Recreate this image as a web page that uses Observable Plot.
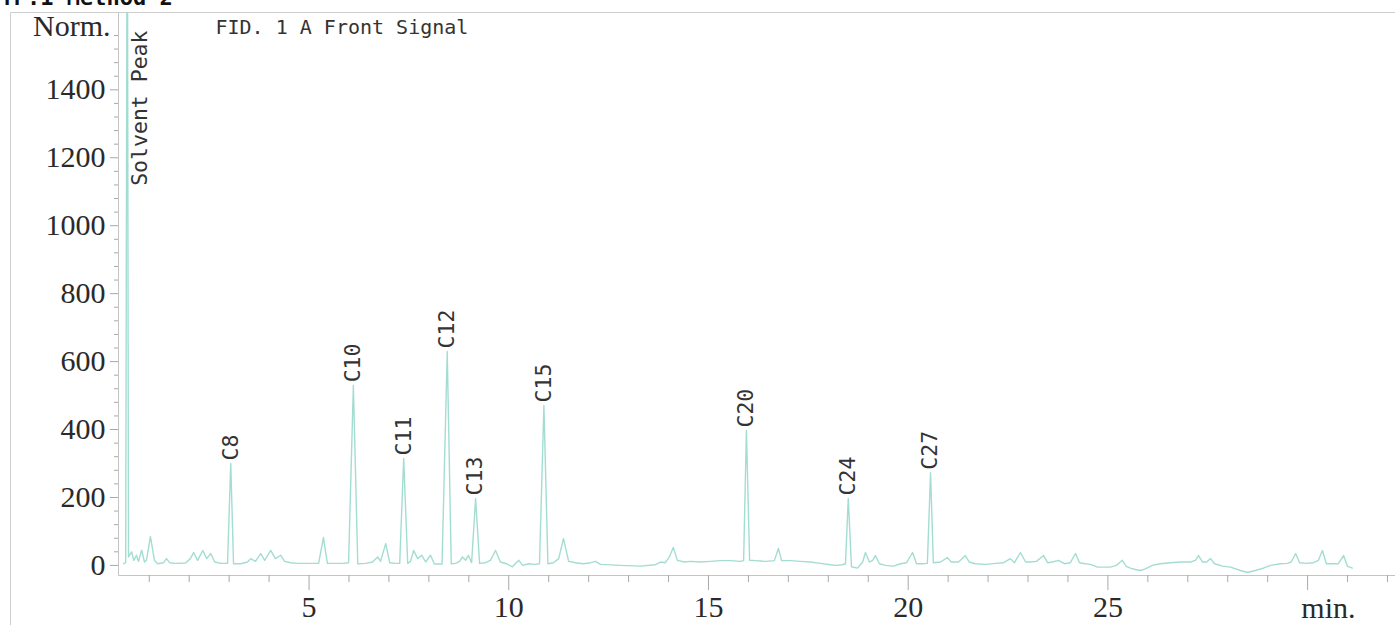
<!DOCTYPE html>
<html>
<head>
<meta charset="utf-8">
<script src="https://cdn.jsdelivr.net/npm/d3@7"></script>
<script src="https://cdn.jsdelivr.net/npm/@observablehq/plot@0.6"></script>
<style>
  html, body { margin: 0; padding: 0; background: #fff; }
</style>
</head>
<body>
<script>
// ---- data ----
const titleText = "TP.1 Method 2";
const signalTitle = "FID. 1 A Front Signal";
const yAxisLabel = "Norm.";
const xAxisLabel = "min.";

// trace: [retention time (min), detector response (Norm.)]
const signal = [
  [0.36,5],[0.41,8],[0.45,2200],[0.48,25],[0.56,40],[0.61,15],[0.68,30],[0.73,12],[0.81,45],[0.88,10],[0.93,15],
  [1.03,85],[1.13,15],[1.21,5],[1.36,8],[1.43,20],[1.51,8],[1.66,6],[1.91,7],[2.03,20],[2.11,38],[2.21,15],
  [2.34,44],[2.44,20],[2.54,35],[2.64,10],[2.79,6],[2.96,6],[3.04,300],[3.11,5],[3.29,5],[3.46,10],[3.54,20],
  [3.66,12],[3.79,35],[3.89,15],[4.04,44],[4.16,20],[4.29,30],[4.39,12],[4.54,8],[4.71,6],[4.91,6],[5.24,6],
  [5.36,82],[5.46,6],[5.66,6],[5.86,6],[5.99,8],[6.11,530],[6.22,5],[6.42,6],[6.59,10],[6.72,25],[6.79,12],
  [6.92,64],[7.02,8],[7.17,6],[7.27,6],[7.37,315],[7.47,6],[7.54,12],[7.62,44],[7.72,20],[7.82,30],[7.92,10],
  [8.04,30],[8.14,4],[8.33,4],[8.46,630],[8.56,5],[8.67,6],[8.77,12],[8.84,25],[8.92,15],[8.99,30],[9.07,8],
  [9.17,197],[9.27,6],[9.42,8],[9.54,15],[9.67,44],[9.79,10],[9.94,5],[10.09,-4],[10.25,15],[10.35,0],
  [10.50,5],[10.67,3],[10.77,5],[10.88,471],[10.98,5],[11.12,8],[11.25,20],[11.37,79],[11.50,12],[11.67,8],
  [11.87,5],[12.05,8],[12.17,12],[12.30,3],[12.80,0],[13.30,-2],[13.67,2],[13.80,10],[13.92,8],[14.02,25],
  [14.12,53],[14.22,15],[14.40,10],[14.55,12],[14.80,10],[15.05,12],[15.30,14],[15.55,14],[15.80,12],
  [15.88,14],[15.95,397],[16.03,15],[16.18,14],[16.43,12],[16.65,14],[16.75,50],[16.83,14],[17.05,14],
  [17.30,12],[17.55,10],[17.80,6],[18.05,2],[18.20,0],[18.35,2],[18.43,5],[18.50,197],[18.58,-4],[18.73,-8],
  [18.86,10],[18.93,38],[19.03,10],[19.11,15],[19.18,29],[19.28,5],[19.43,0],[19.63,-2],[19.81,5],[19.96,8],
  [20.11,38],[20.21,5],[20.36,5],[20.48,6],[20.56,273],[20.63,8],[20.81,10],[20.98,23],[21.08,10],[21.26,10],
  [21.43,29],[21.53,10],[21.68,5],[21.93,3],[22.19,6],[22.39,8],[22.56,20],[22.66,8],[22.81,38],[22.94,10],
  [23.06,10],[23.21,12],[23.39,29],[23.49,8],[23.61,10],[23.76,15],[23.91,5],[24.06,8],[24.19,35],[24.29,8],
  [24.44,5],[24.56,3],[24.74,-5],[25.06,-5],[25.21,0],[25.36,15],[25.46,-3],[25.56,-8],[25.69,-12],[25.81,-15],
  [25.94,-10],[26.11,0],[26.31,5],[26.57,8],[26.82,10],[27.07,10],[27.19,15],[27.27,29],[27.37,10],[27.47,10],
  [27.57,20],[27.67,5],[27.87,-2],[28.07,-5],[28.32,-15],[28.49,-21],[28.69,-15],[28.89,-8],[29.07,0],
  [29.32,5],[29.49,6],[29.59,10],[29.70,35],[29.80,8],[29.97,6],[30.15,8],[30.27,15],[30.37,44],[30.47,5],
  [30.65,5],[30.77,5],[30.90,29],[31.00,-3],[31.12,-8]
];

// labelled peaks
const peakNames   = ["C8", "C10", "C11", "C12", "C13", "C15", "C20", "C24", "C27"];
const peakTimes   = [3.04, 6.11, 7.37, 8.46, 9.17, 10.88, 15.95, 18.50, 20.56];
const peakHeights = [300, 530, 315, 630, 197, 471, 397, 197, 273];
const solventName = "Solvent Peak";
const solventTime = 0.45;

// ticks
const yMajorTicks = [0, 200, 400, 600, 800, 1000, 1200, 1400];
const yMinorTicks = d3.range(40, 1640, 40).filter(v => v % 200 !== 0);
const xMajorTicks = [5, 10, 15, 20, 25, 30];
const xTickLabels = {5: "5", 10: "10", 15: "15", 20: "20", 25: "25"};
const xMinorTicks = d3.range(1, 33).filter(t => t % 5 !== 0);

// ---- layout ----
const W = 1395, H = 625;
const mL = 118, mR = 0, mT = 12, mB = 50;

const peaks = peakNames.map((name, i) => ({name, time: peakTimes[i], height: peakHeights[i]}));

const serif = "'Liberation Serif', 'Times New Roman', serif";
const mono = "'DejaVu Sans Mono', 'Liberation Mono', monospace";
const tickGray = "#a8a8a8";
const textColor = "#2a2a2a";

const chart = Plot.plot({
  width: W,
  height: H,
  marginLeft: mL,
  marginRight: mR,
  marginTop: mT,
  marginBottom: mB,
  style: {background: "#fff", fontFamily: serif, color: textColor},
  x: {type: "linear", domain: [0.23, 32.2], label: null},
  y: {type: "linear", domain: [-29.7, 1627.6], label: null},
  marks: [
    // minor ticks
    Plot.axisY({ticks: yMinorTicks, tickSize: 4, tickFormat: () => "", label: null, stroke: tickGray}),
    Plot.axisX({ticks: xMinorTicks, tickSize: 7, tickFormat: () => "", label: null, stroke: tickGray}),
    // major ticks + labels
    Plot.axisY({ticks: yMajorTicks, tickSize: 8, tickPadding: 5, label: null, stroke: tickGray,
      fill: textColor, fontFamily: serif, fontSize: 30, tickFormat: d => String(d)}),
    Plot.axisX({ticks: xMajorTicks, tickSize: 15, tickPadding: 5, label: null, stroke: tickGray,
      fill: textColor, fontFamily: serif, fontSize: 30, tickFormat: d => xTickLabels[d] ?? ""}),
    // signal trace
    Plot.line(signal, {x: d => d[0], y: d => d[1], stroke: "#a3ddd2", strokeWidth: 1.4, clip: true}),
    // peak labels
    Plot.text(peaks, {x: "time", y: "height", text: "name", rotate: -90, textAnchor: "start",
      dy: -3, fontFamily: mono, fontSize: 21.5, fill: "#333"}),
    Plot.text([solventName], {x: () => solventTime, text: d => d, frameAnchor: "top", rotate: -90,
      textAnchor: "end", dx: 4, dy: 18, fontFamily: mono, fontSize: 21.5, fill: "#333"}),
    // axis titles and headings
    Plot.text([yAxisLabel], {text: d => d, frameAnchor: "top-left", dx: -8, dy: 23, textAnchor: "end",
      lineAnchor: "bottom", fontFamily: serif, fontSize: 30, fill: textColor}),
    Plot.text([xAxisLabel], {text: d => d, frameAnchor: "bottom-right", dx: -40, dy: 42, textAnchor: "end",
      lineAnchor: "bottom", fontFamily: serif, fontSize: 30, fill: textColor}),
    Plot.text([signalTitle], {text: d => d, frameAnchor: "top-left", dx: 97, dy: 21, textAnchor: "start",
      lineAnchor: "bottom", fontFamily: mono, fontSize: 20, fill: "#333"}),
    Plot.text([titleText], {text: d => d, frameAnchor: "top-left", dx: -118, dy: -8, textAnchor: "start",
      lineAnchor: "bottom", fontFamily: mono, fontSize: 22, fontWeight: "bold", fill: "#111"})
  ]
});

// decorative frame and axis lines
const svg = d3.select(chart);
const deco = svg.insert("g", ":first-child").attr("fill", "none");
deco.append("path").attr("d", `M10.5,${H} V${mT + 0.5} H${W}`).attr("stroke", "#cfcfcf");
deco.append("path").attr("d", `M${mL + 0.5},${mT} V${H - mB + 0.5} H${W}`).attr("stroke", "#c4c4c4");

document.body.appendChild(chart);
</script>
</body>
</html>
